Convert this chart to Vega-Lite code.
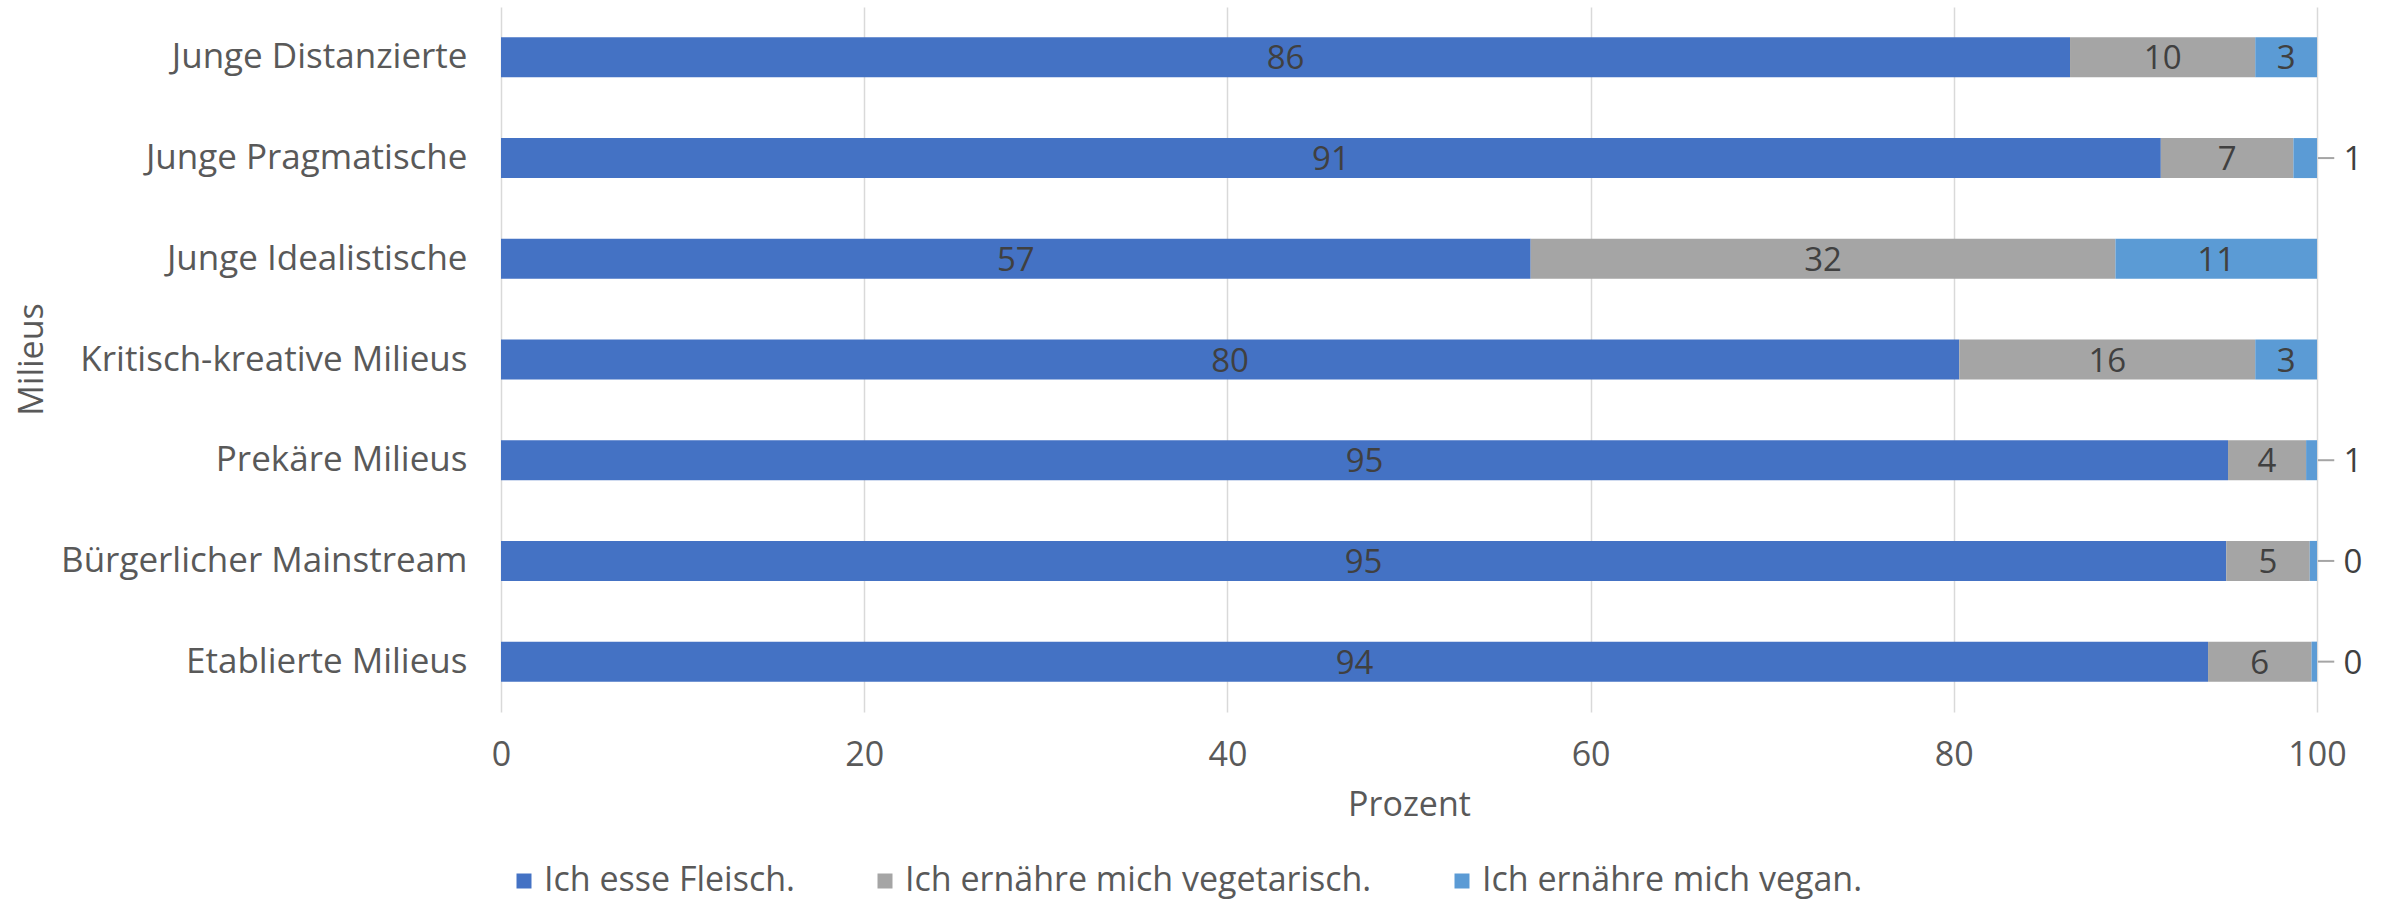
{
  "$schema": "https://vega.github.io/schema/vega-lite/v6.json",
  "width": 1816,
  "height": 705,
  "autosize": {"type": "none"},
  "padding": {"left": 501, "top": 7, "right": 70, "bottom": 192},
  "config": {
    "view": {"stroke": null},
    "font": "Open Sans",
    "axis": {"labelFont": "Open Sans", "titleFont": "Open Sans"},
    "legend": {"labelFont": "Open Sans"}
  },
  "data": {
    "values": [
      {"m": "Junge Distanzierte", "typ": "Ich esse Fleisch.", "v": 86.4},
      {"m": "Junge Distanzierte", "typ": "Ich ernähre mich vegetarisch.", "v": 10.2},
      {"m": "Junge Distanzierte", "typ": "Ich ernähre mich vegan.", "v": 3.4},
      {"m": "Junge Pragmatische", "typ": "Ich esse Fleisch.", "v": 91.4},
      {"m": "Junge Pragmatische", "typ": "Ich ernähre mich vegetarisch.", "v": 7.3},
      {"m": "Junge Pragmatische", "typ": "Ich ernähre mich vegan.", "v": 1.3},
      {"m": "Junge Idealistische", "typ": "Ich esse Fleisch.", "v": 56.7},
      {"m": "Junge Idealistische", "typ": "Ich ernähre mich vegetarisch.", "v": 32.2},
      {"m": "Junge Idealistische", "typ": "Ich ernähre mich vegan.", "v": 11.1},
      {"m": "Kritisch-kreative Milieus", "typ": "Ich esse Fleisch.", "v": 80.3},
      {"m": "Kritisch-kreative Milieus", "typ": "Ich ernähre mich vegetarisch.", "v": 16.3},
      {"m": "Kritisch-kreative Milieus", "typ": "Ich ernähre mich vegan.", "v": 3.4},
      {"m": "Prekäre Milieus", "typ": "Ich esse Fleisch.", "v": 95.1},
      {"m": "Prekäre Milieus", "typ": "Ich ernähre mich vegetarisch.", "v": 4.3},
      {"m": "Prekäre Milieus", "typ": "Ich ernähre mich vegan.", "v": 0.6},
      {"m": "Bürgerlicher Mainstream", "typ": "Ich esse Fleisch.", "v": 95.0},
      {"m": "Bürgerlicher Mainstream", "typ": "Ich ernähre mich vegetarisch.", "v": 4.6},
      {"m": "Bürgerlicher Mainstream", "typ": "Ich ernähre mich vegan.", "v": 0.4},
      {"m": "Etablierte Milieus", "typ": "Ich esse Fleisch.", "v": 94.0},
      {"m": "Etablierte Milieus", "typ": "Ich ernähre mich vegetarisch.", "v": 5.7},
      {"m": "Etablierte Milieus", "typ": "Ich ernähre mich vegan.", "v": 0.3}
    ]
  },
  "encoding": {
    "y": {
      "field": "m",
      "type": "nominal",
      "sort": ["Junge Distanzierte", "Junge Pragmatische", "Junge Idealistische", "Kritisch-kreative Milieus", "Prekäre Milieus", "Bürgerlicher Mainstream", "Etablierte Milieus"],
      "scale": {"paddingInner": 0.6, "paddingOuter": 0.3},
      "axis": {
        "title": "Milieus",
        "domain": false,
        "ticks": false,
        "labelPadding": 34,
        "labelLimit": 0,
        "labelFontSize": 35,
        "labelColor": "#595959",
        "titleFontSize": 34,
        "titleFontWeight": "normal",
        "titleColor": "#595959",
        "titleAngle": -90,
        "titleX": -469,
        "titleY": 352,
        "titleAlign": "center",
        "titleBaseline": "middle"
      }
    }
  },
  "layer": [
    {
      "mark": {"type": "bar", "size": 40},
      "encoding": {
        "x": {
          "field": "v",
          "type": "quantitative",
          "stack": "zero",
          "scale": {"domain": [0, 100], "nice": false},
          "axis": {
            "title": "Prozent",
            "values": [0, 20, 40, 60, 80, 100],
            "grid": true,
            "gridColor": "#D9D9D9",
            "gridWidth": 1.5,
            "domain": false,
            "ticks": false,
            "labelFlush": false,
            "labelPadding": 43,
            "labelBaseline": "middle",
            "labelFontSize": 34,
            "labelColor": "#595959",
            "titleFontSize": 34,
            "titleFontWeight": "normal",
            "titleColor": "#595959",
            "titleY": 93,
            "titleBaseline": "middle"
          }
        },
        "order": {"field": "typ", "sort": "descending"},
        "color": {
          "field": "typ",
          "type": "nominal",
          "scale": {
            "domain": ["Ich esse Fleisch.", "Ich ernähre mich vegetarisch.", "Ich ernähre mich vegan."],
            "range": ["#4472C4", "#A5A5A5", "#5B9BD5"]
          },
          "legend": {
            "title": null,
            "orient": "none",
            "direction": "horizontal",
            "legendX": 6,
            "legendY": 857,
            "padding": 0,
            "symbolType": "square",
            "symbolSize": 225,
            "symbolStrokeWidth": 0,
            "labelFontSize": 34,
            "labelLimit": 0,
            "labelColor": "#595959",
            "labelOffset": 3,
            "columnPadding": 73
          }
        }
      }
    },
    {
      "mark": {"type": "text", "fontSize": 33, "color": "#404040", "baseline": "middle", "dy": 2},
      "encoding": {
        "x": {"field": "v", "type": "quantitative", "stack": "zero", "bandPosition": 0.5},
        "detail": {"field": "typ"},
        "order": {"field": "typ", "sort": "descending"},
        "text": {
          "condition": {"test": "datum.v < 2", "value": ""},
          "field": "v",
          "type": "quantitative",
          "format": ".0f"
        }
      }
    },
    {
      "transform": [{"filter": "datum.v < 2"}],
      "mark": {"type": "rule", "color": "#A5A5A5", "strokeWidth": 2, "clip": false},
      "encoding": {
        "x": {"datum": 100.05},
        "x2": {"datum": 100.95}
      }
    },
    {
      "transform": [{"filter": "datum.v < 2"}],
      "mark": {"type": "text", "fontSize": 33, "color": "#404040", "baseline": "middle", "align": "center", "dx": 36, "dy": 2},
      "encoding": {
        "x": {"datum": 100},
        "text": {"field": "v", "type": "quantitative", "format": ".0f"}
      }
    }
  ]
}
